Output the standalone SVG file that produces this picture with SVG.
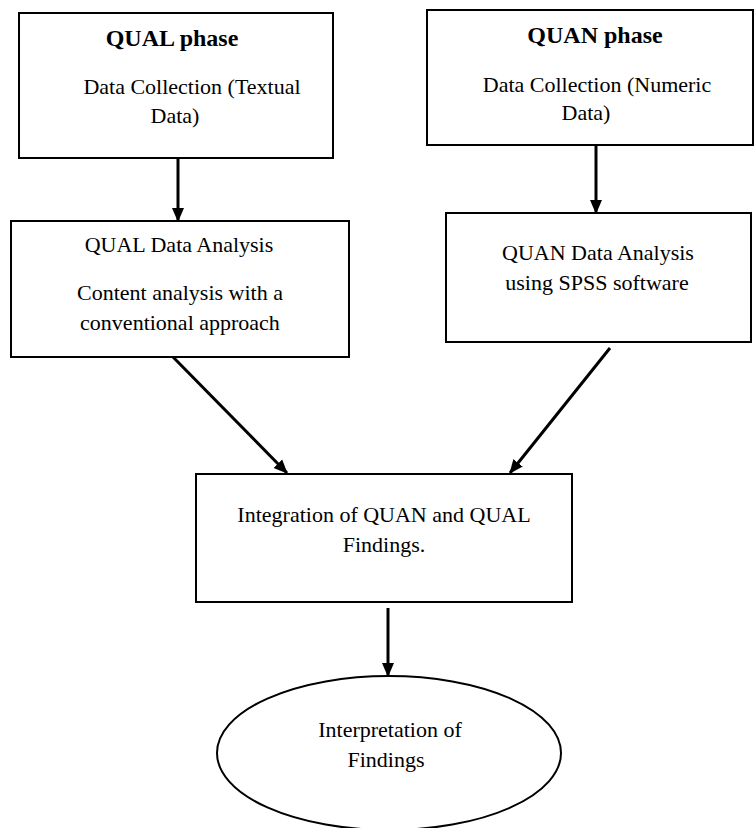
<svg xmlns="http://www.w3.org/2000/svg" width="755" height="828" viewBox="0 0 755 828">
<style>
.box{fill:#fff;stroke:#000;stroke-width:2}
.t{font-family:"Liberation Serif","Times New Roman",serif;font-size:22px;fill:#000;text-anchor:middle}
.b{font-weight:bold;font-size:24px}
.c{stroke:#000;stroke-width:3;fill:none}
</style>
<defs>
<marker id="ah" markerUnits="userSpaceOnUse" markerWidth="14" markerHeight="14" viewBox="0 0 14 14" refX="13" refY="7" orient="auto">
<path d="M0,1 L14,7 L0,13 Z" fill="#000"/>
</marker>
</defs>
<g id="connectors">
<line class="c" x1="178" y1="158" x2="178" y2="221" marker-end="url(#ah)"/>
<line class="c" x1="596" y1="145" x2="596" y2="213" marker-end="url(#ah)"/>
<line class="c" x1="173" y1="357" x2="287" y2="473" marker-end="url(#ah)"/>
<line class="c" x1="610" y1="348" x2="510" y2="473" marker-end="url(#ah)"/>
<line class="c" x1="388" y1="608" x2="388" y2="676" marker-end="url(#ah)"/>
</g>
<g id="qual-phase">
<rect class="box" x="19" y="13" width="314" height="145"/>
<text class="t b" x="172" y="46">QUAL phase</text>
<text class="t" x="192" y="94">Data Collection (Textual</text>
<text class="t" x="175" y="123">Data)</text>
</g>
<g id="quan-phase">
<rect class="box" x="427" y="10" width="326" height="135"/>
<text class="t b" x="595" y="43">QUAN phase</text>
<text class="t" x="597" y="92">Data Collection (Numeric</text>
<text class="t" x="586" y="120">Data)</text>
</g>
<g id="qual-analysis">
<rect class="box" x="11" y="221" width="338" height="136"/>
<text class="t" x="179" y="252">QUAL Data Analysis</text>
<text class="t" x="180" y="300">Content analysis with a</text>
<text class="t" x="180" y="330">conventional approach</text>
</g>
<g id="quan-analysis">
<rect class="box" x="446" y="213" width="305" height="129"/>
<text class="t" x="598" y="260">QUAN Data Analysis</text>
<text class="t" x="597" y="290">using SPSS software</text>
</g>
<g id="integration">
<rect class="box" x="196" y="474" width="376" height="128"/>
<text class="t" x="384" y="522">Integration of QUAN and QUAL</text>
<text class="t" x="384" y="552">Findings.</text>
</g>
<g id="interpretation">
<ellipse class="box" cx="389" cy="753" rx="172" ry="77"/>
<text class="t" x="390" y="737">Interpretation of</text>
<text class="t" x="386" y="767">Findings</text>
</g>
</svg>
